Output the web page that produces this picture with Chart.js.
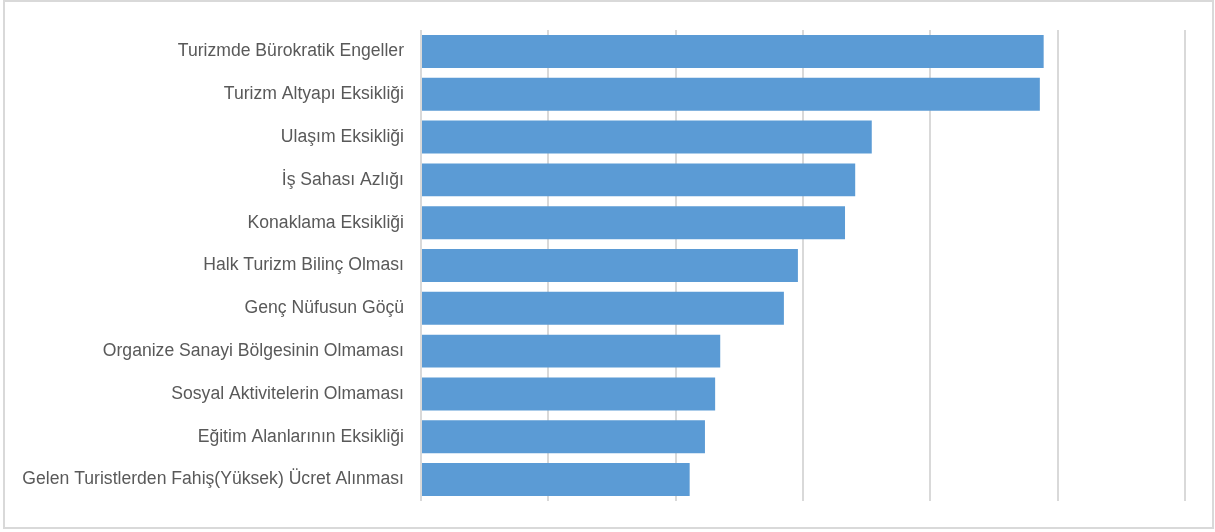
<!DOCTYPE html>
<html>
<head>
<meta charset="utf-8">
<script src="https://cdn.jsdelivr.net/npm/chart.js@4/dist/chart.umd.min.js"></script>
<style>
  html, body { margin: 0; padding: 0; background: #fff; }
  #frame { position: absolute; left: 3px; top: 0; width: 1207px; height: 525px; border: 2px solid #d9d9d9; }
  #wrap { position: absolute; left: 0; top: 0; width: 1215px; height: 532px; }
</style>
</head>
<body>
<div id="frame"></div>
<div id="wrap"><canvas id="chart" width="1215" height="532"></canvas></div>
<script>
const categories = [
  'Turizmde Bürokratik Engeller',
  'Turizm Altyapı Eksikliği',
  'Ulaşım Eksikliği',
  'İş Sahası Azlığı',
  'Konaklama Eksikliği',
  'Halk Turizm Bilinç Olması',
  'Genç Nüfusun Göçü',
  'Organize Sanayi Bölgesinin Olmaması',
  'Sosyal Aktivitelerin Olmaması',
  'Eğitim Alanlarının Eksikliği',
  'Gelen Turistlerden Fahiş(Yüksek) Ücret Alınması'
];
const values = [4.89, 4.86, 3.54, 3.41, 3.33, 2.96, 2.85, 2.35, 2.31, 2.23, 2.11];
const axisMax = 6;

new Chart(document.getElementById('chart'), {
  type: 'bar',
  data: {
    labels: categories,
    datasets: [{
      data: values,
      backgroundColor: '#5b9bd5',
      borderWidth: 0,
      categoryPercentage: 1,
      barPercentage: 0.77,
    }]
  },
  options: {
    indexAxis: 'y',
    responsive: false,
    animation: false,
    layout: { padding: { top: 30, bottom: 31, right: 30, left: 0 } },
    plugins: { legend: { display: false }, tooltip: { enabled: false } },
    scales: {
      x: {
        min: 0, max: axisMax,
        ticks: { display: false, stepSize: 1 },
        grid: { color: '#d9d9d9', lineWidth: 2, drawTicks: false },
        border: { display: false },
        afterFit: s => { s.height = 0; }
      },
      y: {
        ticks: { color: '#595959', padding: 17, font: { family: 'Liberation Sans, Arial, sans-serif', size: 17.6 } },
        grid: { display: false, drawTicks: false },
        border: { display: false },
        afterFit: s => { s.width = 421; }
      }
    }
  }
});
</script>
</body>
</html>
